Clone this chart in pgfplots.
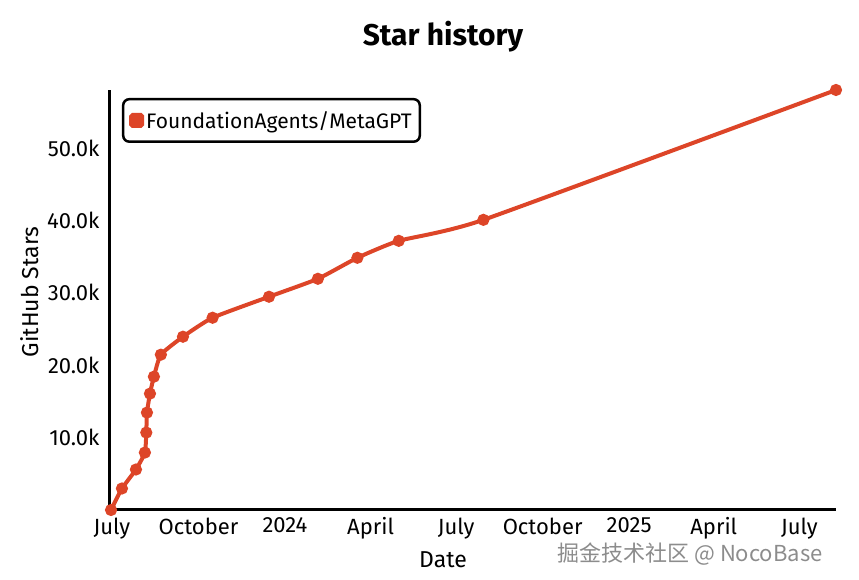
\documentclass[border=0pt]{standalone}
\usepackage{pgfplots}
\pgfplotsset{compat=1.18}
\usepackage{fontspec}
\setmainfont{Fira Sans}
\newfontfamily\cjk{Noto Sans CJK SC}
\definecolor{starred}{HTML}{DD4528}
\begin{document}
\begin{tikzpicture}
\path[use as bounding box] (-110pt,-70pt) rectangle (749pt,510pt);
\begin{axis}[
  scale only axis, width=726pt, height=420pt,
  at={(0pt,0pt)}, anchor=south west,
  xmin=-2.1, xmax=770, ymin=0, ymax=58000,
  clip=false,
  axis lines=left,
  axis line style={line width=3pt, -},
  every inner x axis line/.append style={-},
  every inner y axis line/.append style={-},
  xtick={0,92,184,275,366,458,550,640,731},
  xticklabels={July,October,2024,April,July,October,2025,April,July},
  ytick={10000,20000,30000,40000,50000},
  yticklabels={10.0k,20.0k,30.0k,40.0k,50.0k},
  scaled y ticks=false,
  major tick length=0pt,
  tick label style={font=\fontsize{22}{22}\selectfont},
  xticklabel style={yshift=-4pt},
  yticklabel style={xshift=-7pt},
  /pgf/number format/assume math mode=true,
  legend style={at={(rel axis cs:0.0165,0.981)}, anchor=north west,
    draw=black, line width=2.5pt, rounded corners=6pt,
    font=\fontsize{21}{21}\selectfont, inner xsep=6pt, inner ysep=10pt},
  legend cell align=left,
]
\addplot[starred, line width=4pt, smooth, tension=0.3,
  mark=*, mark size=4pt, mark options={solid, fill=starred, draw=none},
  legend image code/.code={\fill[starred, rounded corners=1.5pt] (2pt,-5.5pt) rectangle (13pt,5.5pt);}]
coordinates {
(-1,0) (10.6,2970) (25.5,5590) (35,7930) (36.5,10690) (37.2,13450)
(40.4,16070) (44.6,18410) (52,21450) (75.5,23930) (107,26550)
(167,29450) (219,31930) (261,34830) (305,37170) (395,40070) (770,58000)
};
\addlegendentry{FoundationAgents/MetaGPT}
\end{axis}
\node[font=\bfseries\fontsize{30}{30}\selectfont] at (333pt,473pt) {Star history};
\node[font=\fontsize{23}{23}\selectfont] at (333pt,-50pt) {Date};
\node[font=\fontsize{23}{23}\selectfont, rotate=90] at (-80pt,218pt) {GitHub Stars};
\node[font=\cjk\fontsize{22}{22}\selectfont, text=black!45] at (580pt,-44pt) {掘金技术社区 @ NocoBase};
\end{tikzpicture}
\end{document}
